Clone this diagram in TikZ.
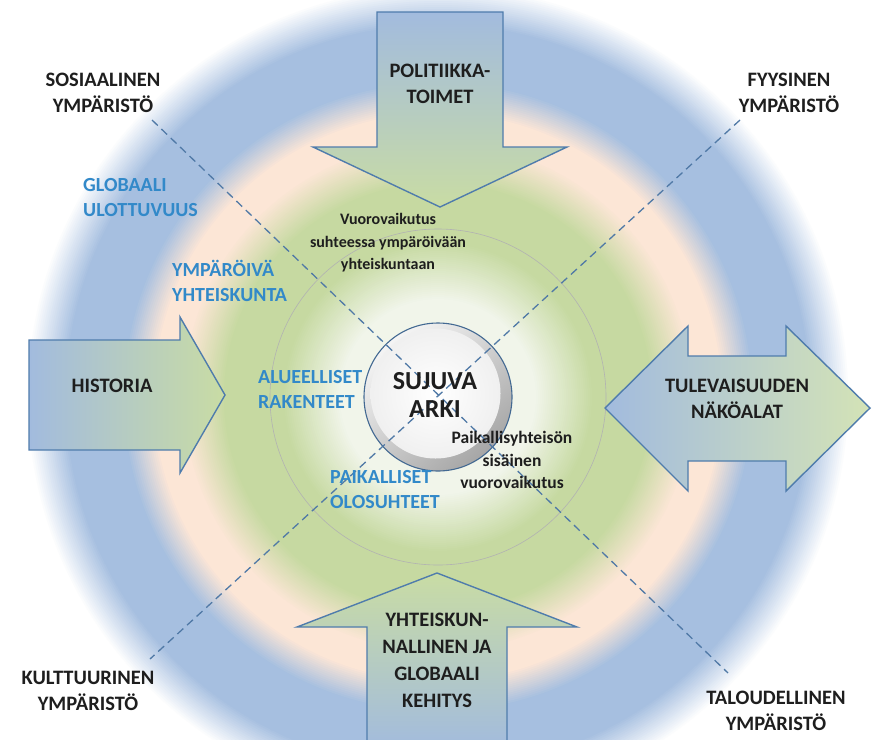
\documentclass[tikz,border=0pt]{standalone}
\usepackage{fontspec}
\setmainfont{Carlito}
\definecolor{ringblue}{HTML}{A6BFE0}
\definecolor{ringpeach}{HTML}{FCE6D6}
\definecolor{ringgreen}{HTML}{C6D9A1}
\definecolor{ringcenter}{HTML}{F1F5EA}
\definecolor{arrblue}{HTML}{A2BBDE}
\definecolor{arrgreen}{HTML}{C9DCA4}
\definecolor{edgeblue}{HTML}{4F7CAC}
\definecolor{dashblue}{HTML}{5079A6}
\definecolor{lblblue}{HTML}{3289C9}
\definecolor{txt}{HTML}{1E1E1E}
\tikzset{
  arrowshape/.style={draw=edgeblue, line width=1.4pt, line join=miter},
  dashline/.style={draw=dashblue, line width=1.3pt, dash pattern=on 8pt off 5pt},
  ringline/.style={draw=black!30, line width=0.6pt},
  caplbl/.style={font=\bfseries\fontsize{20.5}{26}\selectfont, text=txt, align=center, inner sep=0pt},
  bluelbl/.style={font=\bfseries\fontsize{20}{25}\selectfont, text=lblblue, align=left, inner sep=0pt, anchor=west},
  smalllbl/.style={font=\bfseries\fontsize{16}{22.5}\selectfont, text=txt, align=center, inner sep=0pt},
  centerlbl/.style={font=\bfseries\fontsize{26}{28}\selectfont, text=txt, align=center, inner sep=0pt}
}
\begin{document}
\begin{tikzpicture}[x=1pt,y=-1pt]
\useasboundingbox (0,0) rectangle (874,739);
\fill[white] (0,0) rectangle (874,739);
\coordinate (C) at (438,397);
\begin{scope}
  \clip (0,0) rectangle (874,739);
  % rings, drawn from outside inward
  \foreach \r in {412,410,...,372} {
    \pgfmathsetmacro\p{100*(\r-372)/40}
    \fill[white!\p!ringblue] (C) circle[radius=\r pt];
  }
  \fill[ringblue] (C) circle[radius=372pt];
  \foreach \r in {316,314,...,284} {
    \pgfmathsetmacro\p{100*(\r-284)/32}
    \fill[ringblue!\p!ringpeach] (C) circle[radius=\r pt];
  }
  \foreach \r in {256,254,...,214} {
    \pgfmathsetmacro\p{100*(\r-214)/42}
    \fill[ringpeach!\p!ringgreen] (C) circle[radius=\r pt];
  }
  \foreach \r in {156,154,...,98} {
    \pgfmathsetmacro\p{100*(\r-98)/58}
    \fill[ringgreen!\p!ringcenter] (C) circle[radius=\r pt];
  }
  \draw[ringline] (C) circle[radius=168pt];
  % top arrow
  \draw[arrowshape, top color=arrblue, bottom color=arrgreen]
    (377,12) -- (503,12) -- (503,147) -- (567,147) -- (440,207) -- (313,147) -- (377,147) -- cycle;
  % left arrow
  \draw[arrowshape, left color=arrblue, right color=arrgreen]
    (29,340) -- (180,340) -- (180,317) -- (225,395) -- (180,473) -- (180,450) -- (29,450) -- cycle;
  % right double arrow
  \draw[arrowshape, left color=arrblue, right color=arrgreen!80!white]
    (605,408) -- (688,326) -- (688,356) -- (786,356) -- (786,326) -- (870,408)
    -- (786,491) -- (786,461) -- (688,461) -- (688,491) -- cycle;
  % bottom arrow
  \draw[arrowshape, top color=arrgreen, bottom color=arrblue]
    (437,573) -- (577,627) -- (507,627) -- (507,750) -- (367,750) -- (367,627) -- (297,627) -- cycle;
\end{scope}
% centre circle
\shade[top color=gray!8, bottom color=gray!70, shading angle=40] (C) circle[radius=74pt];
\shade[inner color=white, outer color=gray!12] ([xshift=-2.5pt,yshift=3.5pt]C) circle[radius=65pt];
\draw[edgeblue!85!black, line width=1.1pt] (C) circle[radius=74pt];
% dashed diagonals
\coordinate (sosEnd) at (152,120);
\coordinate (talEnd) at (728,673);
\coordinate (fyyEnd) at (740,120);
\coordinate (kulEnd) at (150,659);
\draw[dashline] (sosEnd) -- (talEnd);
\draw[dashline] (fyyEnd) -- (kulEnd);
% corner labels
\node[caplbl] (sos) at (103,93) {SOSIAALINEN\\YMPÄRISTÖ};
\node[caplbl] (fyy) at (789,93) {FYYSINEN\\YMPÄRISTÖ};
\node[caplbl] (kul) at (88,691) {KULTTUURINEN\\YMPÄRISTÖ};
\node[caplbl] (tal) at (776,711) {TALOUDELLINEN\\YMPÄRISTÖ};
% arrow labels
\node[caplbl] (pol) at (440,84) {POLITIIKKA-\\TOIMET};
\node[caplbl] (his) at (112,386) {HISTORIA};
\node[caplbl] (tul) at (737,399) {TULEVAISUUDEN\\NÄKÖALAT};
\node[caplbl, font=\bfseries\fontsize{20.5}{27}\selectfont] (yht) at (437,660) {YHTEISKUN-\\NALLINEN JA\\GLOBAALI\\KEHITYS};
% ring labels
\node[bluelbl] (glo) at (83,198) {GLOBAALI\\ULOTTUVUUS};
\node[bluelbl] (ymp) at (172,281) {YMPÄRÖIVÄ\\YHTEISKUNTA};
\node[bluelbl] (alu) at (258,389) {ALUEELLISET\\RAKENTEET};
\node[bluelbl] (pai) at (330,490) {PAIKALLISET\\OLOSUHTEET};
% inner labels
\node[smalllbl] (vuo) at (388,243) {Vuorovaikutus\\suhteessa ympäröivään\\yhteiskuntaan};
\node[smalllbl, font=\bfseries\fontsize{17.5}{22.5}\selectfont] (loc) at (512,460) {Paikallisyhteisön\\sisäinen\\vuorovaikutus};
\node[centerlbl] (arki) at (435,395) {SUJUVA\\ARKI};
\end{tikzpicture}
\end{document}
